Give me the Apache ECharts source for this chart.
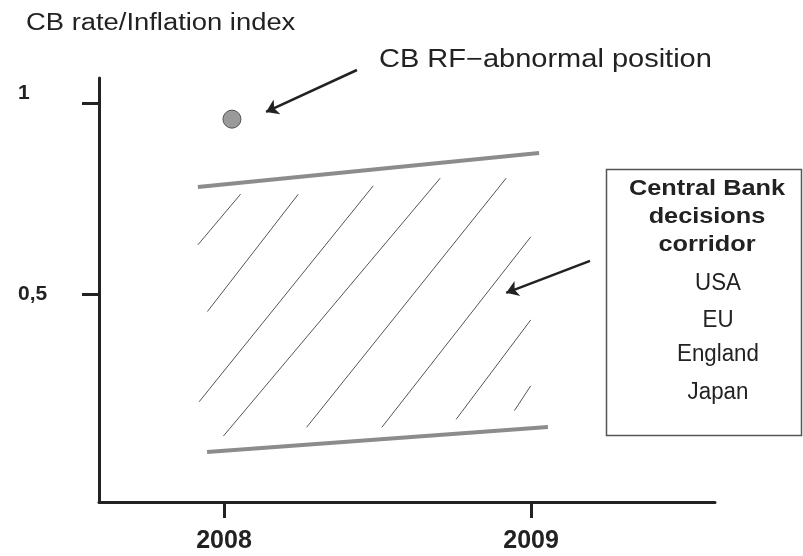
<!DOCTYPE html>
<html>
<head>
<meta charset="utf-8">
<script src="https://cdn.jsdelivr.net/npm/echarts@6/dist/echarts.min.js"></script>
<style>
html,body{margin:0;padding:0;background:#fff;}
#chart{width:803px;height:556px;}
</style>
</head>
<body>
<div id="chart"></div>
<script>
// ---- data ----
const xTickValues = [2008, 2009];
const yTickValues = [0.5, 1];
const yTickLabels = {0.5: '0,5', 1: '1'};
const abnormalPoint = [[2008.026, 0.959]];
const corridorUpper = [[2007.915, 0.781], [2009.026, 0.870]];
const corridorLower = [[2007.945, 0.085], [2009.055, 0.151]];
const hatchLines = [
  [[2007.915, 0.629], [2008.054, 0.762]],
  [[2007.946, 0.454], [2008.242, 0.762]],
  [[2007.919, 0.217], [2008.486, 0.784]],
  [[2007.998, 0.127], [2008.704, 0.804]],
  [[2008.269, 0.150], [2008.919, 0.804]],
  [[2008.514, 0.150], [2008.999, 0.650]],
  [[2008.756, 0.171], [2008.999, 0.432]],
  [[2008.946, 0.194], [2008.999, 0.259]]
];
const arrowLines = [
  [[2008.433, 1.088], [2008.137, 0.978]],
  [[2009.192, 0.587], [2008.919, 0.503]]
];
const titleText = 'CB rate/Inflation index';
const abnormalText = 'CB RF\u2212abnormal position';
const legendBold = ['Central Bank', 'decisions', 'corridor'];
const legendNormal = ['USA', 'EU', 'England', 'Japan'];

// ---- chart ----
const chart = echarts.init(document.getElementById('chart'));
const font = '"Liberation Sans", Arial, sans-serif';
const ink = '#222';

const boldY = [189, 217, 245];
const normalY = [284, 321, 355, 393];
const graphics = [
  {type: 'text', x: 26, y: 24, scaleX: 1.19,
   style: {text: titleText, font: '23px ' + font, fill: ink, textAlign: 'left', textVerticalAlign: 'middle'}},
  {type: 'text', x: 379, y: 60, scaleX: 1.16,
   style: {text: abnormalText, font: '25px ' + font, fill: ink, textAlign: 'left', textVerticalAlign: 'middle'}},
  {type: 'rect', shape: {x: 606.5, y: 169.5, width: 195, height: 266},
   style: {fill: 'none', stroke: '#555', lineWidth: 1.5}}
];
legendBold.forEach((t, i) => graphics.push({type: 'text', x: 707, y: boldY[i], scaleX: 1.15,
  style: {text: t, font: 'bold 22px ' + font, fill: ink, textAlign: 'center', textVerticalAlign: 'middle'}}));
legendNormal.forEach((t, i) => graphics.push({type: 'text', x: 718, y: normalY[i], scaleX: 0.97,
  style: {text: t, font: '23px ' + font, fill: ink, textAlign: 'center', textVerticalAlign: 'middle'}}));

chart.setOption({
  animation: false,
  backgroundColor: '#fff',
  grid: {left: 99, right: 88, top: 78, bottom: 54, containLabel: false},
  xAxis: {
    type: 'value', min: 2007.593, max: 2009.599,
    splitLine: {show: false},
    axisLine: {show: true, onZero: false, lineStyle: {color: ink, width: 3}},
    axisTick: {show: true, customValues: xTickValues, length: 16, lineStyle: {color: ink, width: 3}},
    axisLabel: {customValues: xTickValues, formatter: v => String(v), fontFamily: font,
      fontWeight: 'bold', fontSize: 25, color: ink, margin: 27}
  },
  yAxis: {
    type: 'value', min: -0.046, max: 1.067,
    splitLine: {show: false},
    axisLine: {show: true, onZero: false, lineStyle: {color: ink, width: 3}},
    axisTick: {show: true, customValues: yTickValues, length: 17, lineStyle: {color: ink, width: 3}},
    axisLabel: {customValues: yTickValues, align: 'left', margin: 81,
      formatter: v => (v === 1 ? '{up|' + yTickLabels[v] + '}' : '{n|' + yTickLabels[v] + '}'),
      rich: {
        up: {fontFamily: font, fontWeight: 'bold', fontSize: 21, color: ink, padding: [0, 0, 20, 0]},
        n: {fontFamily: font, fontWeight: 'bold', fontSize: 21, color: ink}
      }}
  },
  graphic: graphics,
  series: [
    {type: 'lines', coordinateSystem: 'cartesian2d', clip: false, silent: true,
     lineStyle: {color: '#555', width: 1, opacity: 1},
     data: hatchLines.map(c => ({coords: c}))},
    {type: 'line', data: corridorUpper, showSymbol: false, silent: true,
     lineStyle: {color: '#8c8c8c', width: 4}},
    {type: 'line', data: corridorLower, showSymbol: false, silent: true,
     lineStyle: {color: '#8c8c8c', width: 4}},
    {type: 'lines', coordinateSystem: 'cartesian2d', clip: false, silent: true,
     symbol: ['none', 'arrow'], symbolSize: 12,
     lineStyle: {color: ink, width: 2.5, opacity: 1},
     data: arrowLines.map(c => ({coords: c}))},
    {type: 'scatter', data: abnormalPoint, symbolSize: 18, silent: true,
     itemStyle: {color: '#9a9a9a', borderColor: '#555', borderWidth: 1, opacity: 1}}
  ]
});
</script>
</body>
</html>
